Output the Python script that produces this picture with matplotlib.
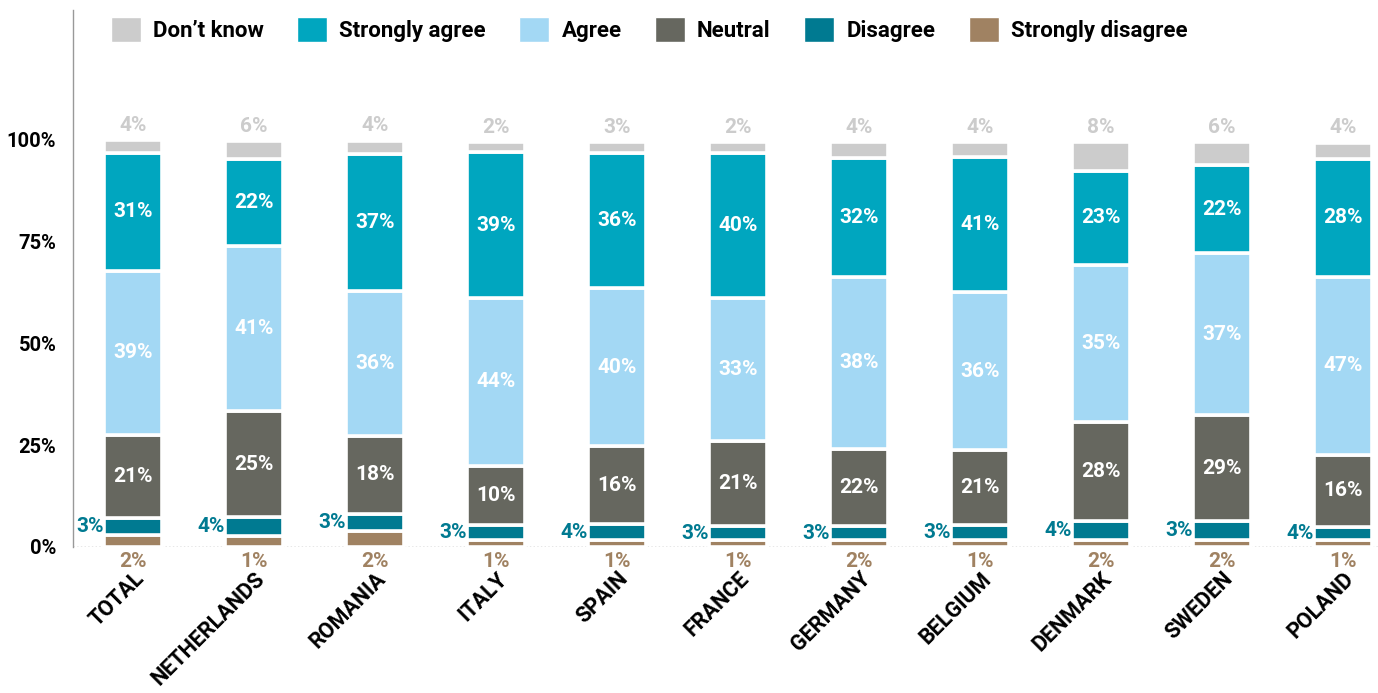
import numpy as np
import matplotlib
matplotlib.use("Agg")
import matplotlib.pyplot as plt
from matplotlib.patches import Patch

plt.rcParams['font.family'] = ['Roboto', 'DejaVu Sans']

countries = ['TOTAL', 'NETHERLANDS', 'ROMANIA', 'ITALY', 'SPAIN', 'FRANCE',
             'GERMANY', 'BELGIUM', 'DENMARK', 'SWEDEN', 'POLAND']

# segment heights as drawn in the chart (percent of bar)
sd_h = [2.9, 2.6, 4.0, 1.6, 1.6, 1.6, 1.6, 1.6, 1.6, 1.6, 1.7]
d_h = [4.3, 4.7, 4.2, 3.9, 4.0, 3.5, 3.5, 3.9, 4.7, 4.8, 3.3]
n_h = [20.4, 26.1, 19.1, 14.5, 19.1, 20.9, 18.9, 18.4, 24.3, 25.9, 17.7]
a_h = [40.3, 40.5, 35.6, 41.1, 39.0, 35.2, 42.4, 38.6, 38.7, 39.9, 43.7]
sa_h = [28.8, 21.3, 33.5, 35.8, 33.0, 35.6, 29.2, 33.3, 23.0, 21.6, 28.9]
dk_h = [3.2, 4.5, 3.4, 2.5, 2.7, 2.7, 3.8, 3.6, 7.1, 5.7, 4.0]

# the printed labels
sd_lbl = [2, 1, 2, 1, 1, 1, 2, 1, 2, 2, 1]
d_lbl = [3, 4, 3, 3, 4, 3, 3, 3, 4, 3, 4]
n_lbl = [21, 25, 18, 10, 16, 21, 22, 21, 28, 29, 16]
a_lbl = [39, 41, 36, 44, 40, 33, 38, 36, 35, 37, 47]
sa_lbl = [31, 22, 37, 39, 36, 40, 32, 41, 23, 22, 28]
dk_lbl = [4, 6, 4, 2, 3, 2, 4, 4, 8, 6, 4]

c_sd = '#a08262'
c_d = '#007a91'
c_n = '#66675f'
c_a = '#a3d8f4'
c_sa = '#00a6bf'
c_dk = '#cccccc'

series = [sd_h, d_h, n_h, a_h, sa_h, dk_h]
labels = [sd_lbl, d_lbl, n_lbl, a_lbl, sa_lbl, dk_lbl]
colors = [c_sd, c_d, c_n, c_a, c_sa, c_dk]

fig = plt.figure(figsize=(13.78, 6.93), dpi=100)
ax = fig.add_axes([0.053, 0.2107, 0.947, 0.775])

x = np.arange(len(countries))
w = 0.48
bottom = np.zeros(len(countries))
segs = []
for vals, col in zip(series, colors):
    ax.bar(x, vals, w, bottom=bottom, color=col, edgecolor='white', linewidth=2.6)
    segs.append((np.array(vals), bottom.copy()))
    bottom = bottom + np.array(vals)

fs = 15
# labels inside neutral / agree / strongly agree
for idx in (2, 3, 4):
    vals, bot = segs[idx]
    for i in range(len(x)):
        ax.text(x[i], bot[i] + vals[i] / 2, f'{labels[idx][i]}%', ha='center', va='center',
                color='white', fontsize=fs, fontweight='bold')

# don't know above the bar
vals, bot = segs[5]
for i in range(len(x)):
    ax.text(x[i], bot[i] + vals[i] + 1.3, f'{labels[5][i]}%', ha='center', va='bottom',
            color=c_dk, fontsize=fs, fontweight='bold')

# disagree on the left of the bar
vals, bot = segs[1]
for i in range(len(x)):
    ax.text(x[i] - w / 2, bot[i] + vals[i] / 2, f'{labels[1][i]}%', ha='right', va='center',
            color=c_d, fontsize=fs, fontweight='bold')

# strongly disagree under the axis
for i in range(len(x)):
    ax.text(x[i], -1.3, f'{labels[0][i]}%', ha='center', va='top',
            color=c_sd, fontsize=fs, fontweight='bold')

ax.set_xlim(-0.496, 10.29)
ax.set_ylim(0, 131.9)
ax.set_yticks([0, 25, 50, 75, 100])
ax.set_yticklabels(['0%', '25%', '50%', '75%', '100%'], fontsize=14.5, fontweight='bold')
ax.set_xticks(x)
ax.set_xticklabels(countries, rotation=45, ha='right', rotation_mode='anchor',
                   fontsize=15.5, fontweight='bold')
ax.tick_params(axis='x', length=0, pad=15)
ax.tick_params(axis='y', length=0, pad=12)

for s in ['top', 'right', 'bottom']:
    ax.spines[s].set_visible(False)
ax.spines['left'].set_color('#999999')
ax.spines['left'].set_linewidth(1)
ax.axhline(0, color='#888888', linewidth=1, linestyle=':', zorder=0)

legend_labels = ['Don\u2019t know', 'Strongly agree', 'Agree', 'Neutral', 'Disagree', 'Strongly disagree']
legend_colors = [c_dk, c_sa, c_a, c_n, c_d, c_sd]
handles = [Patch(facecolor=c, edgecolor='white') for c in legend_colors]
fig.legend(handles, legend_labels, loc='center', bbox_to_anchor=(0.471, 0.958), ncol=6,
           frameon=False, prop={'size': 16, 'weight': 'bold'}, handlelength=1.35,
           handleheight=1.35, handletextpad=0.55, columnspacing=1.5)

fig.savefig('out.png', dpi=100, facecolor='white')
